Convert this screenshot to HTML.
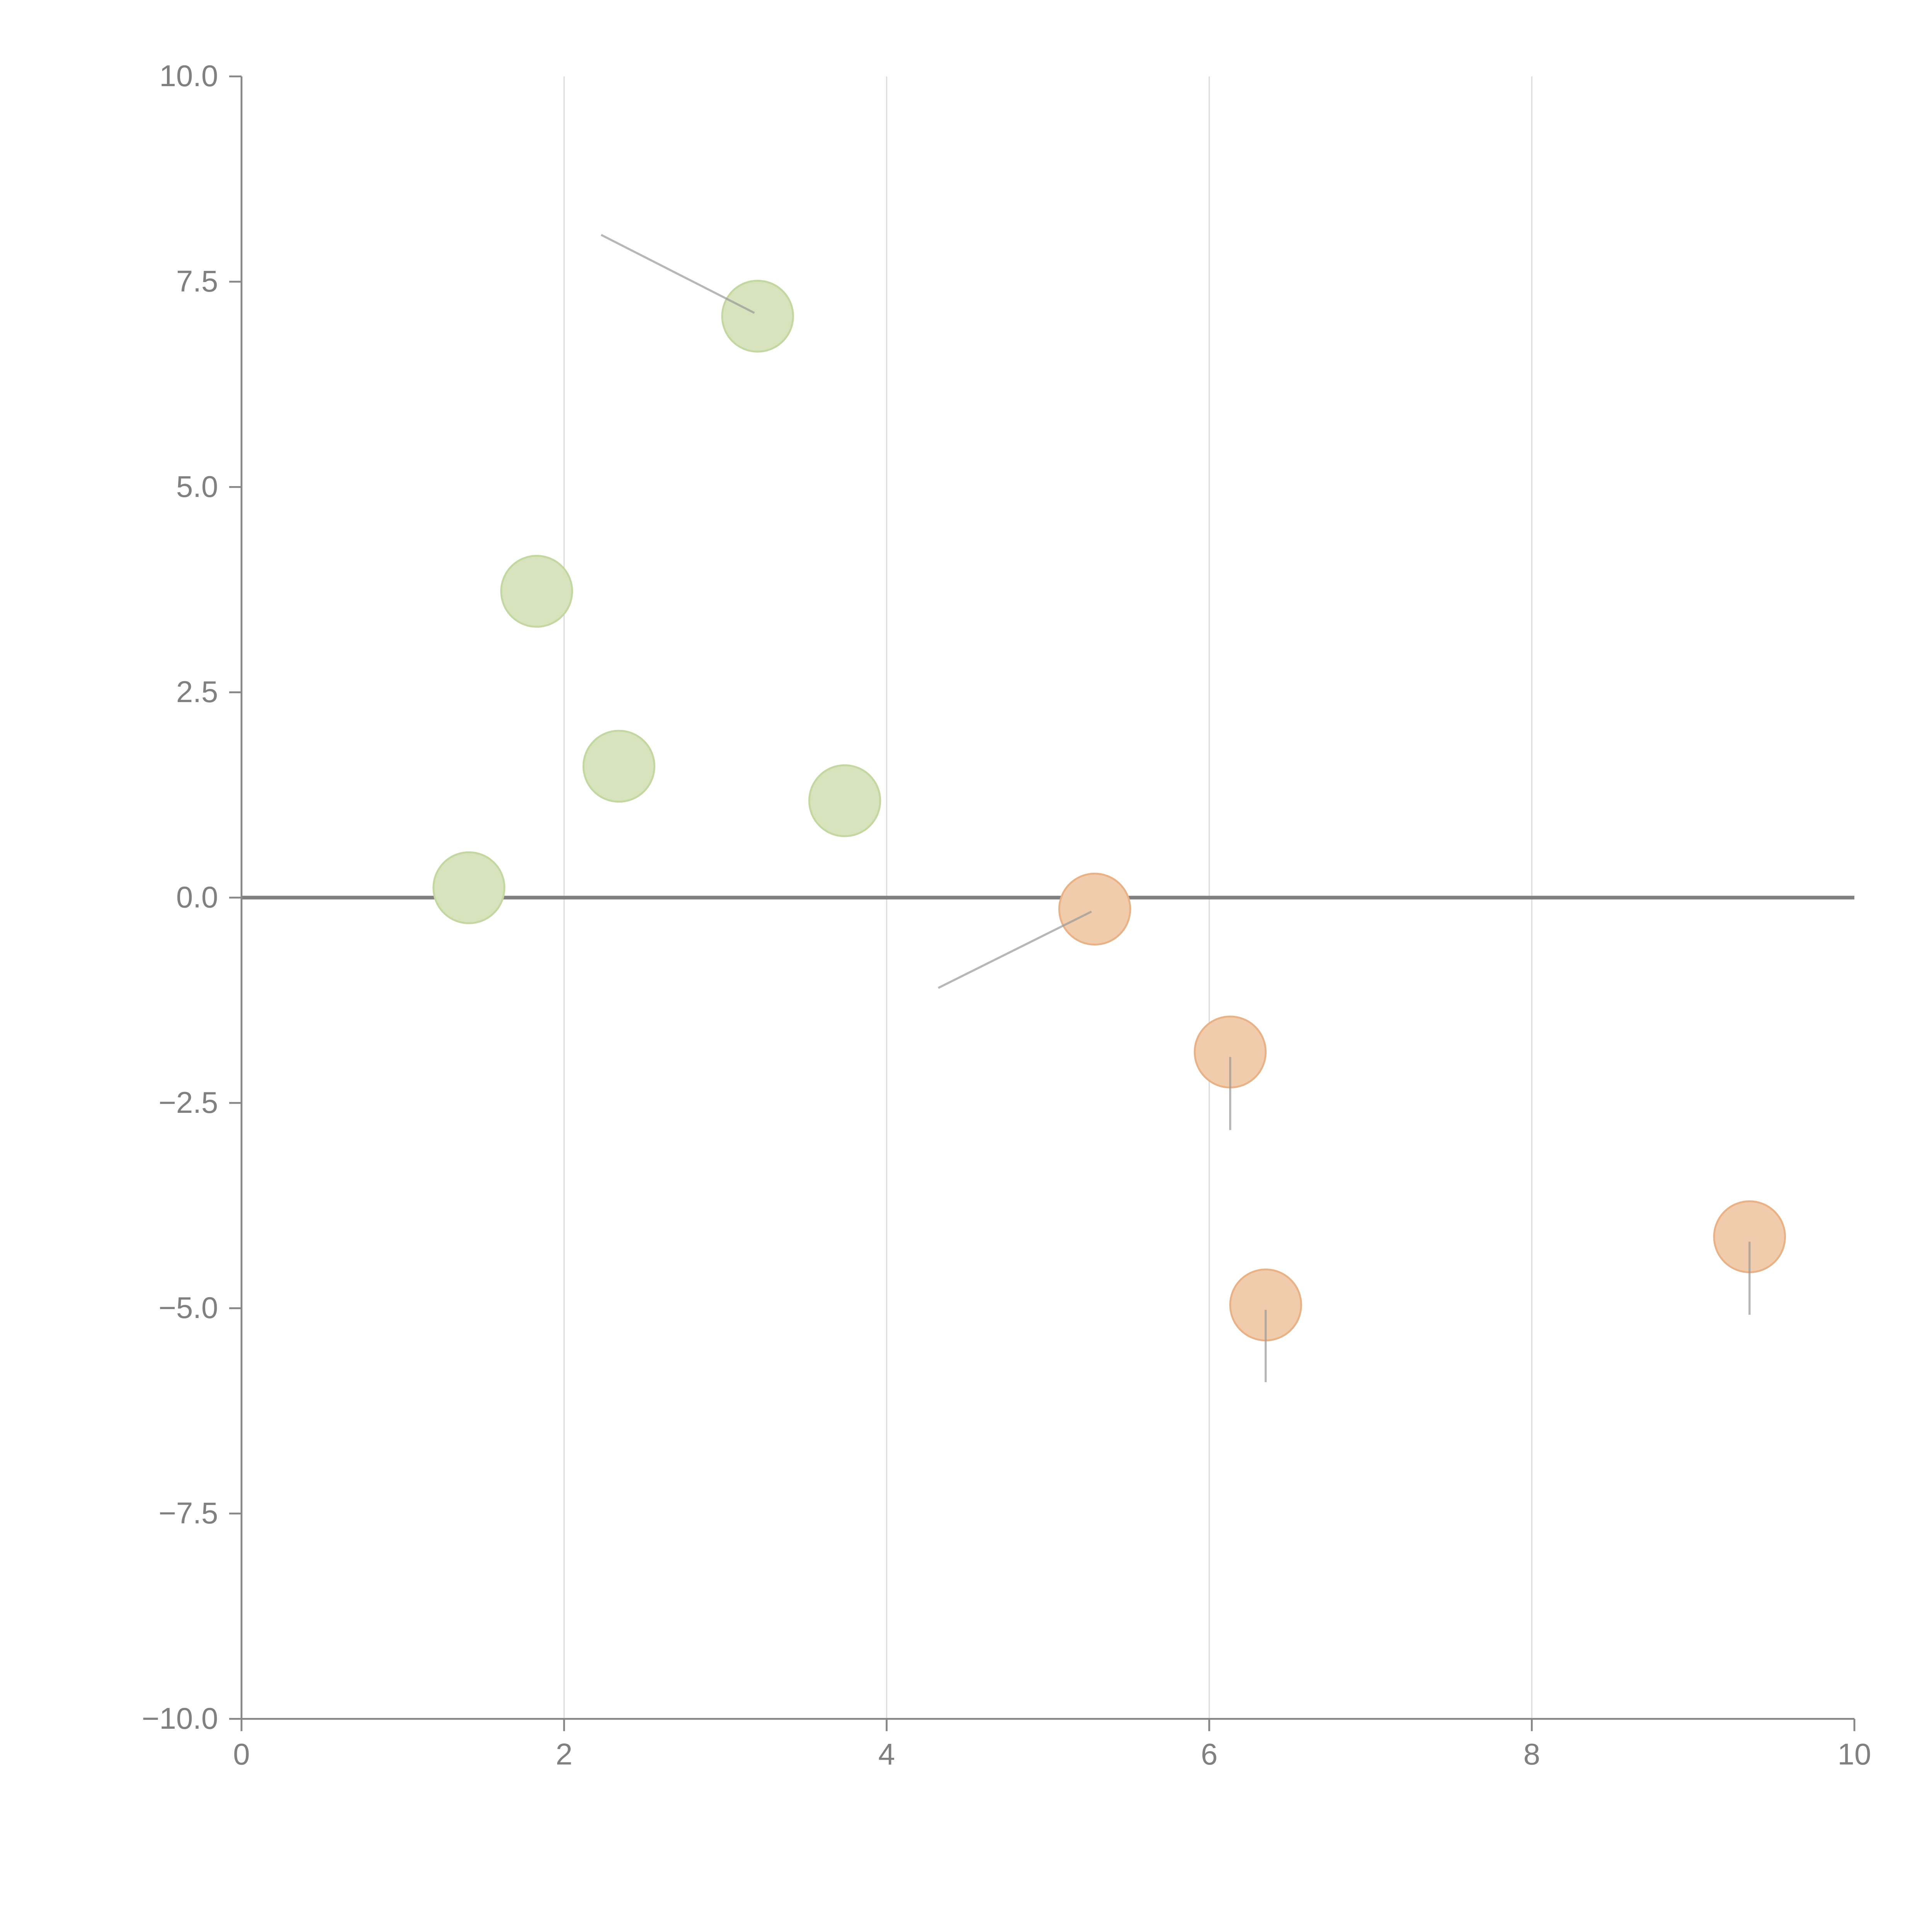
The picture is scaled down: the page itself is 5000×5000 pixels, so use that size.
<!DOCTYPE html>
<html><head><meta charset="utf-8"><style>
html,body{margin:0;padding:0;background:#fff;}
svg{display:block;}
</style></head><body>
<svg id="chart" width="5000" height="5000" viewBox="0 0 1568 1568" xmlns="http://www.w3.org/2000/svg" font-family="'Liberation Sans', Arial, sans-serif">
<g id="grid"></g>
<g id="zero"></g>
<g id="pts"></g>
<g id="axes"></g>
</svg>
<script>
const xTicks = [0, 2, 4, 6, 8, 10];
const yTicks = [10, 7.5, 5, 2.5, 0, -2.5, -5, -7.5, -10];
const yTickLabels = ["10.0", "7.5", "5.0", "2.5", "0.0", "\u22122.5", "\u22125.0", "\u22127.5", "\u221210.0"];
const greenX = [1.41, 1.83, 2.34, 3.20, 3.74];
const greenY = [0.12, 3.73, 1.60, 7.08, 1.18];
const orangeX = [5.29, 6.13, 6.35, 9.35];
const orangeY = [-0.14, -1.88, -4.96, -4.13];
const segX1 = [2.23, 5.27, 6.13, 6.35, 9.35];
const segY1 = [8.07, -0.17, -1.94, -5.02, -4.19];
const segX2 = [3.18, 4.32, 6.13, 6.35, 9.35];
const segY2 = [7.12, -1.10, -2.83, -5.90, -5.08];

const NS = "http://www.w3.org/2000/svg";
const X0 = 196, X1 = 1505, Y0 = 1395, Y1 = 62;
function sx(v){ return X0 + (v - 0) / 10 * (X1 - X0); }
function sy(v){ return Y0 - (v + 10) / 20 * (Y0 - Y1); }
function mk(tag, attrs, parent){
  const e = document.createElementNS(NS, tag);
  for (const k in attrs) e.setAttribute(k, attrs[k]);
  parent.appendChild(e);
  return e;
}
const grid = document.getElementById('grid');
const zero = document.getElementById('zero');
const pts = document.getElementById('pts');
const axes = document.getElementById('axes');

xTicks.forEach(t => {
  if (t === 0 || t === 10) return;
  const l = mk('line', {x1: sx(t), x2: sx(t), y1: Y1, y2: Y0, stroke: '#dcdcdc', 'stroke-width': 1}, grid);
  
  
});

const z = mk('line', {x1: X0, x2: X1, y1: sy(0), y2: sy(0), stroke: '#808080', 'stroke-width': 3}, zero);



greenX.forEach((x, i) => {
  const c = mk('circle', {cx: sx(x), cy: sy(greenY[i]), r: 28.8, fill: '#d6e3bd', stroke: '#c3d8a0', 'stroke-width': 1.5}, pts);
  
  
});
orangeX.forEach((x, i) => {
  const c = mk('circle', {cx: sx(x), cy: sy(orangeY[i]), r: 28.8, fill: '#f0cbac', stroke: '#e9b286', 'stroke-width': 1.5}, pts);
  
  
});
segX1.forEach((x, i) => {
  const l = mk('line', {x1: sx(x), y1: sy(segY1[i]), x2: sx(segX2[i]), y2: sy(segY2[i]), stroke: '#999', 'stroke-opacity': 0.7, 'stroke-width': 1.7}, pts);
  
  
});

const ay = mk('line', {x1: X0, x2: X0, y1: Y1, y2: Y0, stroke: '#888', 'stroke-width': 1.5}, axes);


const ax = mk('line', {x1: X0, x2: X1, y1: Y0, y2: Y0, stroke: '#888', 'stroke-width': 1.5}, axes);



yTicks.forEach((t, i) => {
  const tk = mk('line', {x1: X0 - 10, x2: X0, y1: sy(t), y2: sy(t), stroke: '#888', 'stroke-width': 1.5}, axes);
  
  
  const tx = mk('text', {x: X0 - 19, y: sy(t) + 8, 'text-anchor': 'end', 'font-size': 24.5, fill: '#808080'}, axes);
  tx.textContent = yTickLabels[i];
  
  
});
xTicks.forEach(t => {
  const tk = mk('line', {x1: sx(t), x2: sx(t), y1: Y0, y2: Y0 + 10, stroke: '#888', 'stroke-width': 1.5}, axes);
  
  
  const tx = mk('text', {x: sx(t), y: Y0 + 37, 'text-anchor': 'middle', 'font-size': 24.5, fill: '#808080'}, axes);
  tx.textContent = String(t);
  
  
});
</script>
</body></html>
